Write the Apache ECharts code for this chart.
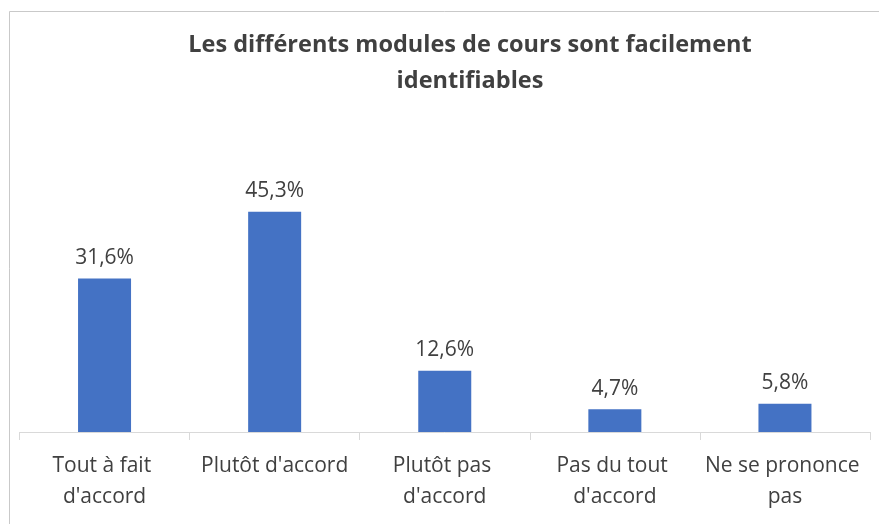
<!DOCTYPE html>
<html>
<head>
<meta charset="utf-8">
<script src="https://cdn.jsdelivr.net/npm/echarts@6/dist/echarts.min.js"></script>
<style>
html, body { margin: 0; padding: 0; background: #fff; }
#chart { width: 879px; height: 524px; }
</style>
</head>
<body>
<div id="chart"></div>
<script>
// données
var titre = 'Les différents modules de cours sont facilement\nidentifiables';
var categories = ["Tout à fait d'accord", "Plutôt d'accord", "Plutôt pas d'accord", "Pas du tout d'accord", "Ne se prononce pas"];
var valeurs = [31.6, 45.3, 12.6, 4.7, 5.8];

var police = '"Open Sans", "Noto Sans", sans-serif';
var myChart = echarts.init(document.getElementById('chart'));
myChart.setOption({
  animation: false,
  backgroundColor: '#fff',
  title: {
    text: titre,
    left: 465,
    textAlign: 'center',
    top: 22,
    textStyle: {
      fontFamily: police,
      fontSize: 23.5,
      fontWeight: 'bold',
      color: '#404040',
      lineHeight: 36
    }
  },
  graphic: [{
    type: 'rect',
    shape: { x: 9.5, y: 11.5, width: 1000, height: 1000 },
    style: { fill: 'none', stroke: '#c9c9c9', lineWidth: 1 },
    silent: true
  }],
  grid: {
    left: 19.5,
    right: 9,
    top: 189,
    bottom: 92
  },
  xAxis: {
    type: 'category',
    data: categories,
    axisLine: { lineStyle: { color: '#d9d9d9', width: 1 } },
    axisTick: { show: true, length: 8, lineStyle: { color: '#d9d9d9' } },
    axisLabel: {
      interval: 0,
      margin: 19,
      width: 165,
      overflow: 'break',
      lineHeight: 31,
      fontFamily: police,
      fontSize: 21,
      color: '#404040'
    }
  },
  yAxis: {
    type: 'value',
    min: 0,
    max: 50,
    show: false
  },
  series: [{
    type: 'bar',
    data: valeurs,
    barWidth: 53,
    itemStyle: { color: '#4472c4' },
    label: {
      show: true,
      position: 'top',
      distance: 10,
      fontFamily: police,
      fontSize: 21,
      color: '#404040',
      formatter: function (p) {
        return p.value.toFixed(1).replace('.', ',') + '%';
      }
    }
  }]
});
</script>
</body>
</html>
